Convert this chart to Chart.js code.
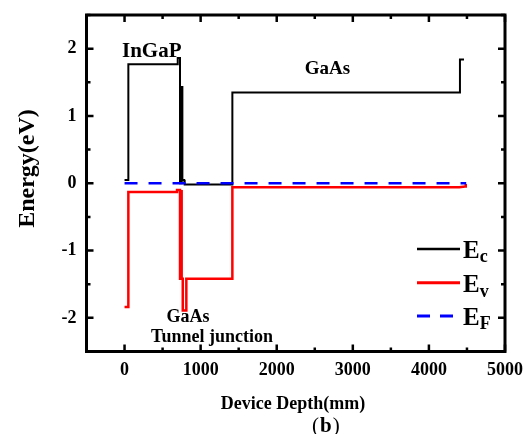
<!DOCTYPE html>
<html>
<head>
<meta charset="utf-8">
<script src="https://cdn.jsdelivr.net/npm/chart.js@4/dist/chart.umd.min.js"></script>
<style>
  html, body { margin: 0; padding: 0; background: #fff; }
  #wrap { width: 524px; height: 434px; position: relative; }
</style>
</head>
<body>
<div id="wrap"><canvas id="c" width="524" height="434"></canvas></div>
<script>
// ---- data ----
const ecDepth  = [0, 50, 50, 699, 699, 729, 729, 752, 752, 760, 760, 785, 790, 1417, 1417, 4408, 4408, 4461];
const ecEnergy = [0.05, 0.05, 1.77, 1.77, 1.86, 1.86, 0.0, 0.0, 1.43, 1.43, 0.05, 0.05, -0.02, -0.02, 1.35, 1.35, 1.84, 1.84];

const evDepth  = [0, 50, 50, 690, 690, 729, 729, 742, 742, 755, 755, 765, 765, 812, 812, 1417, 1417, 4400, 4475, 4484];
const evEnergy = [-1.84, -1.84, -0.13, -0.13, -0.10, -0.10, -1.42, -1.42, -0.10, -0.10, -1.42, -1.42, -1.89, -1.89, -1.42, -1.42, -0.06, -0.06, -0.05, -0.01];

const efDepth  = [0, 4490];
const efEnergy = [0.0, 0.0];

const xTickValues = [0, 1000, 2000, 3000, 4000, 5000];
const yTickValues = [-2, -1, 0, 1, 2];
const xMinorValues = [-500, 500, 1500, 2500, 3500, 4500];
const yMinorValues = [-2.5, -1.5, -0.5, 0.5, 1.5, 2.5];

const seriesNames = ['Ec', 'Ev', 'EF'];
const annotations = [
  { text: 'InGaP', x: 357, y: 1.88, size: 21 },
  { text: 'GaAs', x: 2667, y: 1.63, size: 19 },
  { text: 'GaAs', x: 834, y: -2.06, size: 18 },
  { text: 'Tunnel junction', x: 1150, y: -2.36, size: 18 }
];

const toPts = (xs, ys) => xs.map((x, i) => ({ x: x, y: ys[i] }));
const SERIF = '"Liberation Serif", "Times New Roman", serif';

const framePlugin = {
  id: 'frame',
  afterDatasetsDraw(chart) {
    const ctx = chart.ctx;
    const a = chart.chartArea;
    const xs = chart.scales.x, ys = chart.scales.y;
    ctx.save();
    ctx.strokeStyle = '#000';
    ctx.lineWidth = 2.5;
    ctx.lineCap = 'butt';
    const xt = (v, len) => {
      const p = xs.getPixelForValue(v);
      ctx.beginPath();
      ctx.moveTo(p, a.bottom); ctx.lineTo(p, a.bottom - len);
      ctx.moveTo(p, a.top); ctx.lineTo(p, a.top + len);
      ctx.stroke();
    };
    const yt = (v, len) => {
      const p = ys.getPixelForValue(v);
      ctx.beginPath();
      ctx.moveTo(a.left, p); ctx.lineTo(a.left + len, p);
      ctx.moveTo(a.right, p); ctx.lineTo(a.right - len, p);
      ctx.stroke();
    };
    xTickValues.forEach(v => xt(v, 7));
    xMinorValues.forEach(v => xt(v, 4));
    yTickValues.forEach(v => yt(v, 7));
    yMinorValues.forEach(v => yt(v, 4));
    ctx.lineWidth = 3;
    ctx.strokeRect(a.left, a.top, a.right - a.left, a.bottom - a.top);

    ctx.fillStyle = '#000';
    ctx.textAlign = 'center';
    ctx.textBaseline = 'alphabetic';
    annotations.forEach(t => {
      ctx.font = 'bold ' + t.size + 'px ' + SERIF;
      ctx.fillText(t.text, xs.getPixelForValue(t.x), ys.getPixelForValue(t.y));
    });

    const legend = [
      { color: '#000000', dash: [], width: 2.5, y: 249, sub: 'c', subDy: 4 },
      { color: '#ff0000', dash: [], width: 3, y: 282.7, sub: 'v', subDy: 5 },
      { color: '#0000ff', dash: [13, 10], width: 3, y: 316, sub: 'F', subDy: 4 }
    ];
    legend.forEach(l => {
      ctx.save();
      ctx.strokeStyle = l.color;
      ctx.lineWidth = l.width;
      ctx.setLineDash(l.dash);
      ctx.beginPath();
      ctx.moveTo(417, l.y); ctx.lineTo(460, l.y);
      ctx.stroke();
      ctx.restore();
      ctx.textAlign = 'left';
      ctx.font = 'bold 25px ' + SERIF;
      ctx.fillText('E', 463, l.y + 9);
      const w = ctx.measureText('E').width;
      ctx.font = 'bold 18px ' + SERIF;
      ctx.fillText(l.sub, 463 + w, l.y + 9 + l.subDy);
    });

    ctx.textAlign = 'center';
    ctx.font = 'bold 18px ' + SERIF;
    ctx.fillText('Device Depth(mm)', 293, 409);
    ctx.save();
    ctx.translate(34, 168.5);
    ctx.rotate(-Math.PI / 2);
    ctx.font = 'bold 24px ' + SERIF;
    ctx.fillText('Energy(eV)', 0, 0);
    ctx.restore();
    ctx.textAlign = 'left';
    ctx.font = '21px ' + SERIF;
    let bx = 312;
    ctx.fillText('(', bx, 432);
    bx += ctx.measureText('(').width + 1;
    ctx.font = 'bold 21px ' + SERIF;
    ctx.fillText('b', bx, 432);
    bx += ctx.measureText('b').width + 1;
    ctx.font = '21px ' + SERIF;
    ctx.fillText(')', bx, 432);
    ctx.restore();
  }
};

const zeroPad = s => { s.paddingTop = 0; s.paddingBottom = 0; s.paddingLeft = 0; s.paddingRight = 0; };

new Chart(document.getElementById('c'), {
  type: 'scatter',
  data: {
    datasets: [
      { label: seriesNames[2], data: toPts(efDepth, efEnergy), showLine: true, borderColor: '#0000ff', borderWidth: 2.5, borderDash: [13, 11], pointRadius: 0, order: 0 },
      { label: seriesNames[1], data: toPts(evDepth, evEnergy), showLine: true, borderColor: '#ff0000', borderWidth: 2.5, pointRadius: 0, order: 1 },
      { label: seriesNames[0], data: toPts(ecDepth, ecEnergy), showLine: true, borderColor: '#000000', borderWidth: 2, pointRadius: 0, order: 2 }
    ]
  },
  options: {
    responsive: false,
    animation: false,
    devicePixelRatio: 1,
    layout: { padding: { left: 0, top: 15, right: 19, bottom: 0 } },
    plugins: { legend: { display: false }, tooltip: { enabled: false } },
    elements: { line: { tension: 0, borderJoinStyle: 'miter', borderCapStyle: 'butt' } },
    scales: {
      x: {
        type: 'linear', min: -500, max: 5000,
        afterBuildTicks: s => { s.ticks = xTickValues.map(v => ({ value: v })); },
        afterFit: s => { s.height = 434 - 351.5; zeroPad(s); },
        grid: { display: false, drawTicks: false },
        border: { display: false },
        ticks: { padding: 8, color: '#000', font: { family: SERIF, size: 18, weight: 'bold' }, maxRotation: 0, autoSkip: false, callback: v => String(v) }
      },
      y: {
        type: 'linear', min: -2.5, max: 2.5,
        afterBuildTicks: s => { s.ticks = yTickValues.map(v => ({ value: v })); },
        afterFit: s => { s.width = 86.5; zeroPad(s); },
        grid: { display: false, drawTicks: false },
        border: { display: false },
        ticks: { padding: 10, color: '#000', font: { family: SERIF, size: 18, weight: 'bold' }, autoSkip: false, callback: v => String(v) }
      }
    }
  },
  plugins: [framePlugin]
});
</script>
</body>
</html>
